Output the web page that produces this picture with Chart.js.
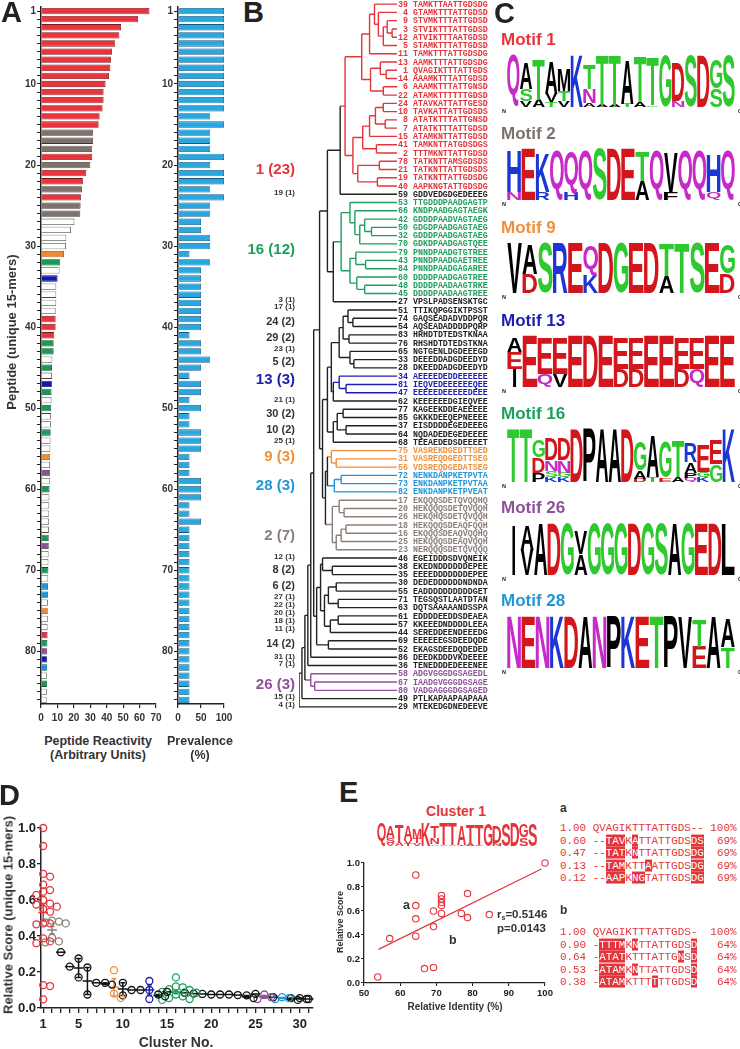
<!DOCTYPE html>
<html>
<head>
<meta charset="utf-8">
<script src="https://cdn.jsdelivr.net/npm/chart.js@4.4.1/dist/chart.umd.min.js"></script>
<style>
  body { margin: 0; background: #fff; }
  #page { position: relative; width: 740px; height: 1049px; overflow: hidden; font-family: 'Liberation Sans', Arial, sans-serif; color: #222; }
  .t { position: absolute; white-space: nowrap; line-height: 1; font-weight: bold; }
  .mono { font-family: 'Liberation Mono', 'Courier New', monospace; font-weight: normal; white-space: pre; }
  .hl { background: #e3353b; color: #fff; }
</style>
</head>
<body>
<div id="page"></div>
<script>
// ---------- data ----------
const reactivity = [66, 59, 48.7, 47.7, 45.2, 43.2, 42.6, 42.2, 41.4, 39.3,
  38.1, 38.1, 37.5, 35.7, 35.1, 31.6, 31.6, 31.2, 31.2, 30.0,
  27.5, 25.5, 24.9, 24.3, 24.1, 23.9, 20.3, 18.2, 15.4, 15.2,
  14.0, 11.7, 11.3, 10.1, 9.3, 9.3, 9.3, 8.9, 8.9, 8.9,
  8.1, 7.7, 7.7, 6.9, 6.7, 6.7, 6.6, 6.4, 6.4, 6.2,
  6.1, 6.0, 5.9, 5.8, 5.7, 5.6, 5.5, 5.4, 5.3, 5.2,
  5.1, 5.0, 5.0, 4.9, 4.8, 4.7, 4.7, 4.6, 4.5, 4.5,
  4.4, 4.3, 4.3, 4.2, 4.1, 4.1, 4.0, 4.0, 3.9, 3.8,
  3.8, 3.7, 3.7, 3.6, 3.5, 3.4];
const prevalence = [100, 100, 100, 100, 100, 100, 100, 100, 100, 100,
  100, 100, 100, 70, 100, 70, 70, 70, 100, 70,
  100, 100, 70, 100, 70, 70, 50, 50, 70, 70,
  25, 70, 50, 50, 50, 50, 50, 50, 50, 50,
  25, 50, 50, 70, 50, 25, 50, 50, 25, 50,
  25, 25, 50, 50, 50, 25, 25, 25, 50, 50,
  50, 25, 25, 50, 25, 25, 25, 25, 25, 25,
  25, 25, 25, 25, 25, 25, 25, 25, 25, 25,
  25, 25, 25, 25, 25, 25];

const cl1Red = [39, 4, 9, 3, 12, 5, 11, 13, 1, 14, 6, 22, 24, 10, 8, 7, 15, 41, 2, 78, 21, 19, 40];
const cl16Green = [53, 66, 42, 50, 32, 70, 79, 43, 84, 60, 48, 45];
const cl2Gray = [17, 20, 26, 18, 16, 25, 23];
const cl9Orange = [75, 31, 56];
const cl28LightBlue = [72, 73, 82];
const cl13DarkBlue = [34, 81, 47];
const cl26Purple = [58, 67, 80];

const leafIds = [39, 4, 9, 3, 12, 5, 11, 13, 1, 14, 6, 22, 24, 10, 8, 7, 15, 41, 2, 78, 21, 19, 40,
  59, 53, 66, 42, 50, 32, 70, 79, 43, 84, 60, 48, 45, 27, 51, 74, 54, 83, 76, 65, 33, 28,
  34, 81, 47, 62, 77, 85, 37, 64, 68, 75, 31, 56, 72, 73, 82, 17, 20, 26, 18, 16, 25, 23,
  46, 38, 35, 30, 55, 71, 63, 61, 57, 44, 69, 52, 86, 36, 58, 67, 80, 49, 29];
const leafSeqs = ['TAMKTTAATTGDSDG', 'GTAMKTTTATTGDSD', 'STVMKTTTATTGDSD', 'STVIKTTTATTGDSD', 'ATVIKTTTAATGDSD',
  'STAMKTTTATTGDSD', 'TAMKTTTATTGDSDG', 'AAMKTTTATTGDSDG', 'QVAGIKTTTATTGDS', 'AAAMKTTTATTGDSD',
  'AAAMKTTTATTGNSD', 'ATAMKTTTTTTGDSD', 'ATAVKATTATTGESD', 'TAVKATTATTGDSDS', 'ATATKTTTATTGNSD',
  'ATATKTTTATTGDSD', 'ATAMKNTTATTGDSD', 'TAMKNTTATGDSDGS', 'TTTMKNTTATTGDSD', 'TATKNTTAMSGDSDS',
  'TATKNTTATTGDSDS', 'TATKNTTATTGDSDG', 'AAPKNGTATTGDSDG', 'GDDVEDGDGEDEEEG', 'TTGDDDPAADGAGTP',
  'KNDPAADGAGTAEGK', 'GDDDPAADVAGTAEG', 'GDGDPAADGAGTAEG', 'GDDDPAADGAGTAEG', 'GDKDPAADGAGTQEE',
  'PNNDPAADGTGTREE', 'PNNDPAADGAETREE', 'PNNDPAADGAGAREE', 'DDDDPAADGAGTREE', 'DDDDPAADAAGTRKE',
  'DDDDPAADAAGTREE', 'VPSLPADSENSKTGC', 'TTIKQPGGIKTPSST', 'GAQSEADADVDDPQR', 'AQSEADADDDDPQRP',
  'HRHDTDTEDSTKNAA', 'RHSHDTDTEDSTKNA', 'NGTGENLDGDEEEGD', 'DEEEDDADGDEEDYD', 'DKEEDDADGDEEDYD',
  'AEEEEDEDDEEEEEE', 'IEQVEDEEEEEEQEE', 'EEEEEDEEEEEDEEE', 'KEEEEEEDGIEQVEE', 'KAGEEKDDEAEEEEE',
  'GKKKDEEQEPNEEEE', 'EISDDDDEGEDEEEG', 'NQDADEDEGEDEEEE', 'TEEAEDEDSDEEEET', 'VASREKDGEDTTSED',
  'VASREQDGEDTTSEG', 'VDSREQDGEDATSEG', 'NENKDANPKETPVTA', 'ENKDANPKETPVTAA', 'ENKDANPKETPVEAT',
  'EKQQQSDETQVQQHQ', 'HEKQQQSDETQVQQH', 'HEKQHQSDETQVQQH', 'HEKQQQSDEAQFQQH', 'EKQQQSDEAQVQQHQ',
  'HEKQQQSDEAQVQQH', 'NERQQQSDETQVQQQ', 'EGEIDDDSDVQNEIK', 'EKEDNDDDDDDEPEE', 'EEEEDDDDDDDEPEE',
  'DEDEDDDDDDNDNDA', 'EADDDDDDDDDDGET', 'TEGSQSTLAATDTAN', 'DQTSAAAAANDSSPA', 'EDDDDEEDDSDEAEA',
  'KKEEEDNDDDDLEEA', 'SEREDDEENDEEEDG', 'EEEEEEGSDEEDQDE', 'EKAGSDEEDQDEDED', 'DEEDKDDDVKDEEEE',
  'TENEDDDEDEEENEE', 'ADGVGGGDGSAGEDL', 'IAADGVGGGDGSAGE', 'VADGAGGGDGSAGED', 'PTLKAPAAPAAPAAA',
  'MTEKEDGDNEDEEVE'];

// nested [height, child, child...]; leaves are peptide numbers (height 100)
const dendroTree =
[0,
 [3,
  [6,
   [9,
    [12,
     [15,
      [21,
       [29,
        [42,
         [47,
          [64,
           [72, [77, 39, [81, 4, [86, [90, 9, [95, 3, 12]], 5]]], 11],
           [73, [83, 13, [89, 1, 14]], [86, 6, 22]]],
          [55,
           [65, [72, [78, [86, 24, 10], [88, 8, 7]], 15], [79, 41, 2]],
           [60, [82, 78, 21], [80, 19, 40]]]],
         59],
        [35,
         [43,
          [52, 53, [57, 66, [62, [67, 42, [74, 50, 32]], 70]]],
          [52, [58, 79, [68, 43, 84]], [59, 60, [67, 48, 45]]]],
         27]],
       [24,
        [29,
         [33,
          [41, [45, [50, 51, [55, 74, 54]], [51, 83, 76]], [52, 65, [56, 33, 28]]],
          [35, [41, 34, [48, 81, 47]], 62]],
         [35, [39, [45, 77, 85], [48, 37, 64]], 68]],
        [27,
         [29, [33, 75, [38, 31, 56]], [36, [43, 72, 73], 82]],
         [34, [41, 17, [46, 20, 26]], [38, [43, [48, 18, 16], 25], 23]]]]],
      [18,
       [22, [24, 46, [34, 38, 35]], [26, [30, [38, 30, 55], [40, 71, 63]], [32, [40, 61, 57], 44]]],
       [30, 69, 52]]],
     86],
    36],
   [12, 58, [16, 67, 80]]],
  49],
 29];

const clusterTags = ['1 (23)', '19 (1)', '16 (12)', '3 (1)', '17 (1)', '24 (2)', '29 (2)', '23 (1)', '5 (2)', '13 (3)',
  '21 (1)', '30 (2)', '10 (2)', '25 (1)', '9 (3)', '28 (3)', '2 (7)', '12 (1)', '8 (2)', '6 (2)',
  '27 (1)', '22 (1)', '20 (1)', '18 (1)', '11 (1)', '14 (2)', '31 (1)', '7 (1)', '26 (3)', '15 (1)', '4 (1)'];

// sequence logo columns, letters listed top to bottom with height in bits
const motif1 = [
  [['Q', 4.0]], [['A', 2.0], ['S', 0.9], ['V', 0.45]], [['T', 3.1], ['A', 0.55]],
  [['A', 2.5], ['V', 0.65], ['T', 0.35]], [['M', 1.7], ['T', 0.8], ['V', 0.45]], [['K', 4.0]],
  [['T', 1.9], ['N', 1.1], ['A', 0.3]], [['T', 3.75], ['A', 0.15]], [['T', 3.75], ['A', 0.15]],
  [['A', 3.4], ['T', 0.25]], [['T', 3.45], ['A', 0.35]], [['T', 3.7], ['G', 0.12]],
  [['G', 3.9]], [['D', 2.9], ['N', 0.5]], [['S', 3.9]], [['D', 3.9]], [['G', 2.2], ['S', 1.45]], [['S', 3.9]]];
const motif2 = [
  [['H', 3.2], ['N', 0.6]], [['E', 3.9]], [['K', 3.0], ['R', 0.6]], [['Q', 3.9]], [['Q', 3.2], ['H', 0.55]],
  [['Q', 3.9]], [['S', 3.9]], [['D', 3.9]], [['E', 3.9]], [['T', 2.3], ['A', 1.5]], [['Q', 3.9]],
  [['V', 3.0], ['F', 0.55]], [['Q', 3.9]], [['Q', 3.9]], [['H', 2.9], ['Q', 0.6]], [['Q', 3.9]]];
const motif9 = [
  [['V', 3.9]], [['A', 2.3], ['D', 1.5]], [['S', 3.9]], [['R', 3.9]], [['E', 3.9]], [['Q', 2.3], ['K', 1.4]],
  [['D', 3.9]], [['G', 3.9]], [['E', 3.9]], [['D', 3.9]], [['T', 2.5], ['A', 1.3]], [['T', 3.9]],
  [['S', 3.9]], [['E', 3.9]], [['G', 2.3], ['D', 1.5]]];
const motif13 = [
  [['A', 1.1], ['E', 1.3], ['I', 1.4]], [['E', 3.9]], [['E', 2.7], ['Q', 1.0]], [['E', 2.7], ['V', 1.0]],
  [['E', 3.9]], [['D', 3.9]], [['E', 3.9]], [['E', 2.4], ['D', 1.4]], [['E', 2.4], ['D', 1.4]],
  [['E', 3.9]], [['E', 3.9]], [['E', 2.4], ['D', 1.4]], [['E', 2.4], ['Q', 1.4]], [['E', 3.9]], [['E', 3.9]]];
const motif16 = [
  [['T', 3.9]], [['T', 3.9]], [['G', 1.3], ['D', 1.1], ['P', 0.7]],
  [['D', 1.6], ['N', 0.8], ['S', 0.45], ['K', 0.35]], [['D', 1.6], ['N', 0.9], ['G', 0.35], ['K', 0.35]],
  [['D', 3.9]], [['P', 3.9]], [['A', 3.9]], [['A', 3.9]], [['D', 3.9]],
  [['G', 2.1], ['A', 0.6], ['D', 0.25]], [['A', 3.1], ['T', 0.35]], [['G', 2.6], ['E', 0.3]],
  [['T', 2.7], ['A', 0.35]], [['R', 1.4], ['A', 0.8], ['P', 0.35], ['Q', 0.3]],
  [['E', 2.0], ['G', 0.4], ['K', 0.35]], [['E', 1.8], ['G', 1.3]], [['K', 3.9]]];
const motif26 = [
  [['I', 3.7]], [['A', 1.9], ['V', 1.9]], [['A', 3.9]], [['D', 3.9]], [['G', 3.9]], [['V', 1.7], ['A', 1.6]],
  [['G', 3.9]], [['G', 3.9]], [['G', 3.9]], [['D', 3.9]], [['G', 3.9]], [['S', 3.9]], [['A', 3.9]],
  [['G', 3.9]], [['E', 3.9]], [['D', 3.9]], [['L', 3.9]]];
const motif28 = [
  [['N', 3.9]], [['E', 3.9]], [['N', 3.9]], [['K', 3.9]], [['D', 3.9]], [['A', 3.9]], [['N', 3.9]],
  [['P', 3.9]], [['K', 3.9]], [['E', 3.9]], [['T', 3.9]], [['P', 3.9]], [['V', 3.9]],
  [['T', 2.0], ['E', 1.6]], [['A', 3.9]], [['A', 2.1], ['T', 1.6]]];

// panel D: relative score per cluster (cluster 1..31)
const clusterNos = [1, 2, 3, 4, 5, 6, 7, 8, 9, 10, 11, 12, 13, 14, 15, 16, 17, 18, 19, 20, 21, 22, 23, 24, 25, 26, 27, 28, 29, 30, 31];
const clusterScores = [
  [1.0, 0.9, 0.745, 0.73, 0.685, 0.655, 0.646, 0.628, 0.60, 0.58, 0.575, 0.563, 0.55, 0.535, 0.47, 0.465, 0.47, 0.387, 0.37, 0.36, 0.127, 0.122, 0.048],
  [0.485, 0.48, 0.475, 0.47, 0.39, 0.37, 0.365],
  [0.31], [0.23], [0.275, 0.17], [0.225, 0.075], [0.14], [0.14, 0.13],
  [0.21, 0.08, 0.055], [0.14, 0.07], [0.10], [0.10], [0.15, 0.10, 0.05], [0.075, 0.065], [0.09],
  [0.17, 0.12, 0.115, 0.105, 0.10, 0.09, 0.085, 0.075, 0.065, 0.055, 0.05, 0.045],
  [0.085], [0.08], [0.078], [0.075], [0.075], [0.075], [0.072], [0.07, 0.055], [0.078],
  [0.075, 0.06, 0.05], [0.06], [0.06, 0.055, 0.05], [0.055, 0.045], [0.055, 0.05], [0.05]];

// panel E
const eIdentity = [100, 64.3, 78.6, 71.4, 71.4, 71.4, 71.4, 64.3, 69.2, 71.4, 76.9, 84.6, 78.6, 64.3, 69.2, 57.1, 64.3, 66.7, 69.2, 53.8];
const eScore = [1.0, 0.90, 0.745, 0.73, 0.70, 0.67, 0.645, 0.645, 0.60, 0.58, 0.58, 0.57, 0.545, 0.535, 0.47, 0.37, 0.39, 0.12, 0.13, 0.05];
const eFitIdentity = [54, 99];
const eFitScore = [0.28, 0.95];
const alignA = ['1.00 QVAGIKTTTATTGDS-- 100%', '0.60 --[TAV]K[A]TTATTGDS[DS]  69%', '0.47 --[TAT]K[N]TTATTGDS[DG]  69%',
  '0.13 --[TAM]KTT[A]ATTGDS[DG]  69%', '0.12 --[AAP]K[NG]TATTGDS[DG]  69%'];
const alignB = ['1.00 QVAGIKTTTATTGDS-  100%', '0.90 -[TTTM]K[N]TTATTGDS[D]   64%', '0.64 -[ATAT]KTTTATTG[N]S[D]   64%',
  '0.53 -[ATAM]K[N]TTATTGDS[D]   64%', '0.38 -[ATAM]KTTT[T]TTGDS[D]   64%'];

// ---------- styles ----------
const RED = '#e3353b', GRAY = '#8c7f7a', GREEN = '#1e9f5b', ORANGE = '#f0903d',
      DBLUE = '#1c1cb0', LBLUE = '#1f97d6', PURPLE = '#8e5199', INK = '#222';
const clusterSets = [[cl1Red, RED], [cl16Green, GREEN], [cl2Gray, GRAY], [cl9Orange, ORANGE],
  [cl28LightBlue, LBLUE], [cl13DarkBlue, DBLUE], [cl26Purple, PURPLE]];
function peptideColor(id) {
  for (const [set, col] of clusterSets) if (set.includes(id)) return col;
  return null;
}
const barFill = { [RED]: '#e8343a', [GRAY]: '#7f726d', [GREEN]: '#1a9a58', [ORANGE]: '#f08b35',
  [LBLUE]: '#1d94d6', [DBLUE]: '#1616b0', [PURPLE]: '#8e5199' };
const barEdge = { [RED]: '#7a1518', [GRAY]: '#3a302c', [GREEN]: '#0b4a28', [ORANGE]: '#8a4a10',
  [LBLUE]: '#0c4a70', [DBLUE]: '#080850', [PURPLE]: '#45224a' };
const dClusterColor = { 1: RED, 2: GRAY, 9: ORANGE, 13: DBLUE, 16: GREEN, 26: PURPLE, 28: LBLUE };

Chart.defaults.font.family = "'Liberation Sans', Arial, sans-serif";
Chart.defaults.color = INK;

const page = document.getElementById('page');
function addCanvas(left, top, w, h) {
  const c = document.createElement('canvas');
  c.width = w; c.height = h;
  c.style.cssText = `position:absolute;left:${left}px;top:${top}px;width:${w}px;height:${h}px`;
  page.appendChild(c);
  return c;
}
function text(html, x, cy, size, color, align, extra) {
  const d = document.createElement('div');
  d.className = 't';
  d.innerHTML = html;
  const tx = align === 'center' ? '-50%' : align === 'right' ? '-100%' : '0';
  d.style.cssText = `left:${x}px;top:${cy}px;font-size:${size}px;color:${color || INK};transform:translate(${tx},-50%);${extra || ''}`;
  page.appendChild(d);
  return d;
}
function vtext(html, cx, cy, size) {
  return text(html, cx, cy, size, '#333', 'center', 'transform:translate(-50%,-50%) rotate(-90deg);');
}
const noPlug = { legend: { display: false }, tooltip: { enabled: false } };
const gap = () => ({ x: null, y: null });

// ---------- panel A ----------
const peptideLabels = reactivity.map((v, i) => String(i + 1));
const pepCols = peptideLabels.map(l => peptideColor(+l));

function peptideAxis(width) {
  return {
    ticks: { autoSkip: false, font: { size: 10, weight: 'bold' }, color: '#333', padding: 1,
      callback: (v, i) => (i === 0 || (i + 1) % 10 === 0) ? String(i + 1) : '' },
    grid: { drawOnChartArea: false, offset: false, tickLength: 4, color: INK, lineWidth: 1 },
    border: { color: INK, width: 1.5 },
    afterFit: s => { s.width = width; }
  };
}

new Chart(addCanvas(0, 0, 168, 725), {
  type: 'bar',
  data: { labels: peptideLabels, datasets: [{
    data: reactivity,
    backgroundColor: pepCols.map(c => c ? barFill[c] : '#ffffff'),
    borderColor: pepCols.map(c => c ? barEdge[c] : '#444'),
    borderWidth: 0.8, barPercentage: 0.78, categoryPercentage: 1 }] },
  options: {
    indexAxis: 'y', responsive: false, animation: false,
    layout: { padding: { top: 5, right: 12 } },
    plugins: noPlug,
    scales: {
      x: { min: 0, max: 70,
        ticks: { stepSize: 10, font: { size: 10, weight: 'bold' }, color: '#333', padding: 4, maxRotation: 0 },
        grid: { drawOnChartArea: false, tickLength: 4, color: INK, lineWidth: 1.2 },
        border: { color: INK, width: 1.5 },
        afterFit: s => { s.height = 21; } },
      y: peptideAxis(41)
    }
  }
});

new Chart(addCanvas(130, 0, 110, 725), {
  type: 'bar',
  data: { labels: peptideLabels, datasets: [{
    data: prevalence, backgroundColor: '#2aa7df', borderColor: '#135a85',
    borderWidth: 0.8, barPercentage: 0.78, categoryPercentage: 1 }] },
  options: {
    indexAxis: 'y', responsive: false, animation: false,
    layout: { padding: { top: 5, right: 16 } },
    plugins: noPlug,
    scales: {
      x: { min: 0, max: 100,
        ticks: { stepSize: 25, font: { size: 10, weight: 'bold' }, color: '#333', padding: 4, maxRotation: 0,
          callback: v => v % 50 === 0 ? String(v) : '' },
        grid: { drawOnChartArea: false, tickLength: 4, color: INK, lineWidth: 1.2 },
        border: { color: INK, width: 1.5 },
        afterFit: s => { s.height = 21; } },
      y: peptideAxis(48)
    }
  }
});

text('A', 1, 12, 29);
vtext('Peptide (unique 15-mers)', 11, 332, 13);
text('Peptide Reactivity', 98, 741, 12.5, '#333', 'center');
text('(Arbitrary Units)', 98, 755, 12.5, '#333', 'center');
text('Prevalence', 200, 741, 12.5, '#333', 'center');
text('(%)', 200, 755, 12.5, '#333', 'center');

// ---------- panel B ----------
function layoutNode(node) {
  if (typeof node === 'number') {
    return { h: 100, y: leafIds.indexOf(node), col: peptideColor(node) || INK };
  }
  const [h, ...kids] = node;
  const ch = kids.map(layoutNode);
  const ys = ch.map(c => c.y);
  const cols = new Set(ch.map(c => c.col));
  const col = cols.size === 1 ? [...cols][0] : INK;
  return { h, y: (Math.min(...ys) + Math.max(...ys)) / 2, y0: Math.min(...ys), y1: Math.max(...ys), kids: ch, col };
}
const segsByColor = {};
function collect(n) {
  if (!n.kids) return;
  const push = (col, pts) => { (segsByColor[col] = segsByColor[col] || []).push(...pts, gap()); };
  push(n.col, [{ x: n.h, y: n.y0 }, { x: n.h, y: n.y1 }]);
  n.kids.forEach(k => { push(k.col, [{ x: n.h, y: k.y }, { x: k.h, y: k.y }]); collect(k); });
}
collect(layoutNode(dendroTree));

const leafLabelPlugin = {
  id: 'leafLabels',
  afterDraw(chart) {
    const ctx = chart.ctx, ys = chart.scales.y, r = chart.chartArea.right;
    ctx.save();
    ctx.font = "bold 8.3px 'Liberation Mono', 'Courier New', monospace";
    ctx.textBaseline = 'middle';
    leafIds.forEach((id, i) => {
      const y = ys.getPixelForValue(i);
      ctx.fillStyle = peptideColor(id) || INK;
      ctx.textAlign = 'right';
      ctx.fillText(String(id), r + 11, y + 0.5);
      ctx.textAlign = 'left';
      ctx.fillText(leafSeqs[i], r + 16, y + 0.5);
    });
    ctx.restore();
  }
};

new Chart(addCanvas(290, 0, 205, 711), {
  type: 'scatter',
  data: { datasets: Object.entries(segsByColor).map(([col, pts]) => ({
    data: pts, showLine: true, spanGaps: false, pointRadius: 0, borderColor: col, borderWidth: 1.4 })) },
  options: {
    responsive: false, animation: false,
    layout: { padding: { left: 9, right: 98, top: 0, bottom: 0 } },
    plugins: noPlug,
    scales: {
      x: { display: false, min: 0, max: 100 },
      y: { display: false, min: -0.5, max: 85.5, reverse: true }
    }
  },
  plugins: [leafLabelPlugin]
});

text('B', 243, 12, 29);
const tagY = [168, 193, 248, 300, 307, 321, 337, 349, 361, 378, 400, 413, 429, 441, 455, 484, 534, 557, 569, 585,
  597, 605, 613, 621, 629, 643, 657, 664, 683, 697, 705];
const tagColor = { '1 (23)': RED, '16 (12)': GREEN, '13 (3)': DBLUE, '9 (3)': ORANGE, '28 (3)': LBLUE, '2 (7)': GRAY, '26 (3)': PURPLE };
clusterTags.forEach((t, i) => {
  const big = tagColor[t];
  const single = t.endsWith('(1)');
  text(t, 295, tagY[i], big ? 15 : single ? 8 : 11, big || '#333', 'right');
});

// ---------- panel C (logos) ----------
function aaColor(L) {
  if ('GSTYC'.includes(L)) return '#2ec92e';
  if ('KRH'.includes(L)) return '#1b35d6';
  if ('DE'.includes(L)) return '#d2161b';
  if ('NQ'.includes(L)) return '#c72bc7';
  return '#000';
}
function drawGlyph(ctx, L, left, top, w, h, color) {
  ctx.save();
  ctx.font = "bold 100px 'Liberation Sans', Arial, sans-serif";
  const m = ctx.measureText(L);
  const gl = m.actualBoundingBoxLeft, ga = m.actualBoundingBoxAscent;
  const gw = gl + m.actualBoundingBoxRight, gh = ga + m.actualBoundingBoxDescent;
  let ww = w;
  if (L === 'I') { ww = w * 0.22; left += (w - ww) / 2; }
  ctx.translate(left, top);
  ctx.scale(ww / gw, h / gh);
  ctx.fillStyle = color;
  ctx.textAlign = 'left';
  ctx.textBaseline = 'alphabetic';
  ctx.fillText(L, gl, ga);
  ctx.restore();
}
const logoPlugin = {
  id: 'logoLetters',
  afterDatasetsDraw(chart, args, opts) {
    const ctx = chart.ctx;
    chart.data.datasets.forEach((ds, di) => {
      chart.getDatasetMeta(di).data.forEach((bar, i) => {
        const L = ds.letters[i];
        if (!L) return;
        const p = bar.getProps(['x', 'y', 'base', 'width'], true);
        const h = p.base - p.y;
        if (h < 0.3) return;
        drawGlyph(ctx, L, p.x - p.width / 2, p.y, p.width, h, opts.mono || aaColor(L));
      });
    });
  }
};
function makeLogo(left, top, width, height, cols, mono, showNums) {
  const depth = Math.max(...cols.map(c => c.length));
  const datasets = [];
  for (let k = 0; k < depth; k++) {
    datasets.push({
      data: cols.map(c => c.length > k ? c[c.length - 1 - k][1] : 0),
      letters: cols.map(c => c.length > k ? c[c.length - 1 - k][0] : ''),
      backgroundColor: 'rgba(0,0,0,0)', borderWidth: 0, barPercentage: 0.97, categoryPercentage: 1
    });
  }
  new Chart(addCanvas(left, top, width, height), {
    type: 'bar',
    data: { labels: cols.map((c, i) => String(i + 1)), datasets },
    options: {
      responsive: false, animation: false,
      layout: { padding: { left: 2, right: 4, top: 2, bottom: showNums ? 0 : 1 } },
      plugins: { ...noPlug, logoLetters: { mono } },
      scales: {
        x: { stacked: true, display: showNums, grid: { display: false }, border: { display: false },
          ticks: { font: { size: 5.5, weight: 'bold' }, color: INK, padding: 1, maxRotation: 0, autoSkip: false },
          afterFit: s => { s.height = 8; } },
        y: { stacked: true, display: false, min: 0, max: 4 }
      }
    },
    plugins: [logoPlugin]
  });
}
text('C', 494, 13, 29);
const motifs = [['Motif 1', RED, motif1, 39, 55, 107], ['Motif 2', '#7d716c', motif2, 133, 148, 200],
  ['Motif 9', ORANGE, motif9, 227, 242, 293], ['Motif 13', DBLUE, motif13, 320, 335, 387],
  ['Motif 16', GREEN, motif16, 413, 428, 482], ['Motif 26', PURPLE, motif26, 507, 522, 575],
  ['Motif 28', LBLUE, motif28, 600, 615, 668]];
motifs.forEach(([name, col, cols, ty, lt, lb]) => {
  text(name, 501, ty, 17, col);
  makeLogo(505, lt - 2, 234, lb - lt + 10, cols, null, true);
  text('N', 502, lb + 5, 5.5);
  text('C', 738, lb + 5, 5.5);
});

// ---------- panel D ----------
function swarmOffsets(vals, pxX, pxY, minDist) {
  const order = vals.map((v, i) => i).sort((a, b) => vals[b] - vals[a]);
  const placed = [], off = vals.map(() => 0);
  const cands = [0];
  for (let k = 1; k < 14; k++) cands.push(k * 3.4, -k * 3.4);
  order.forEach(i => {
    for (const c of cands) {
      if (placed.every(p => Math.hypot(p.x - c, (p.y - vals[i]) * pxY) >= minDist)) {
        off[i] = c / pxX; placed.push({ x: c, y: vals[i] }); break;
      }
    }
  });
  return off;
}
const dPoints = [], dBars = [];
clusterScores.forEach((vals, ci) => {
  const c = clusterNos[ci];
  const col = dClusterColor[c] || '#111';
  const off = swarmOffsets(vals, 8.8, 180, 6.8);
  dPoints.push({ data: vals.map((v, k) => ({ x: c + off[k], y: v })), showLine: false, clip: false,
    pointRadius: 3.5, pointBorderWidth: 1.3, pointBorderColor: col, pointBackgroundColor: 'rgba(0,0,0,0)' });
  const n = vals.length;
  const m = vals.reduce((a, b) => a + b, 0) / n;
  const se = n > 1 ? Math.sqrt(vals.reduce((a, b) => a + (b - m) ** 2, 0) / (n - 1)) / Math.sqrt(n) : 0;
  const pts = [{ x: c - 0.55, y: m }, { x: c + 0.55, y: m }];
  if (n > 1) pts.push(gap(), { x: c, y: m - se }, { x: c, y: m + se }, gap(),
    { x: c - 0.28, y: m + se }, { x: c + 0.28, y: m + se }, gap(), { x: c - 0.28, y: m - se }, { x: c + 0.28, y: m - se });
  dBars.push({ data: pts, showLine: true, spanGaps: false, clip: false, pointRadius: 0, borderColor: col, borderWidth: 1.5 });
});
new Chart(addCanvas(0, 815, 320, 234), {
  type: 'scatter',
  data: { datasets: [...dPoints, ...dBars] },
  options: {
    responsive: false, animation: false,
    layout: { padding: { top: 13, right: 7 } },
    plugins: noPlug,
    scales: {
      x: { min: 0.75, max: 31.5,
        afterBuildTicks: s => { s.ticks = clusterNos.map(v => ({ value: v })); },
        ticks: { autoSkip: false, maxRotation: 0, padding: 4, font: { size: 13, weight: 'bold' }, color: INK,
          callback: v => (v === 1 || v % 5 === 0) ? String(v) : '' },
        grid: { drawOnChartArea: false, tickLength: 5, color: INK, lineWidth: 1.3 },
        border: { color: INK, width: 1.5 },
        afterFit: s => { s.height = 41; } },
      y: { min: 0, max: 1,
        ticks: { stepSize: 0.2, padding: 1, font: { size: 13, weight: 'bold' }, color: INK, callback: v => v.toFixed(1) },
        grid: { drawOnChartArea: false, tickLength: 4, color: INK, lineWidth: 1.3 },
        border: { color: INK, width: 1.5 },
        afterFit: s => { s.width = 41; } }
    }
  }
});
text('D', -1, 795, 29);
vtext('Relative Score (unique 15-mers)', 8, 915, 13);
text('Cluster No.', 176, 1042, 14, '#333', 'center');

// ---------- panel E ----------
text('E', 339, 792, 29);
text('Cluster 1', 456, 811, 14, RED, 'center');
makeLogo(375, 821, 166, 34, motif1, RED, false);
new Chart(addCanvas(340, 855, 220, 150), {
  type: 'scatter',
  data: { datasets: [
    { data: eIdentity.map((v, i) => ({ x: v, y: eScore[i] })), showLine: false, clip: false,
      pointRadius: 3.2, pointBorderWidth: 1.1, pointBorderColor: RED, pointBackgroundColor: 'rgba(0,0,0,0)' },
    { data: eFitIdentity.map((v, i) => ({ x: v, y: eFitScore[i] })), showLine: true, pointRadius: 0,
      borderColor: RED, borderWidth: 1.2 }
  ] },
  options: {
    responsive: false, animation: false,
    layout: { padding: { top: 8, right: 15 } },
    plugins: noPlug,
    scales: {
      x: { min: 50, max: 100,
        ticks: { stepSize: 10, padding: 2, maxRotation: 0, font: { size: 9.5, weight: 'bold' }, color: INK },
        grid: { drawOnChartArea: false, tickLength: 3, color: INK, lineWidth: 1.1 },
        border: { color: INK, width: 1.3 },
        afterFit: s => { s.height = 22; } },
      y: { min: 0, max: 1,
        ticks: { stepSize: 0.2, padding: 1, font: { size: 9.5, weight: 'bold' }, color: INK, callback: v => v.toFixed(1) },
        grid: { drawOnChartArea: false, tickLength: 3, color: INK, lineWidth: 1.1 },
        border: { color: INK, width: 1.3 },
        afterFit: s => { s.width = 24; } }
    }
  }
});
vtext('Relative Score', 340, 922, 9);
text('Relative Identity (%)', 455, 1007, 10, '#333', 'center');
text('a', 403, 905, 12.5, '#333');
text('b', 449, 940, 12.5, '#333');
text('r<sub style="font-size:7px;vertical-align:-2px">s</sub>=0.5146', 497, 915, 11.5, '#333');
text('p=0.0143', 497, 929, 11.5, '#333');

function alignRow(s) { return s.replace(/\[([^\]]+)\]/g, '<span class="hl">$1</span>'); }
text('a', 560, 808, 12, '#333');
alignA.forEach((row, i) => {
  const d = text(alignRow(row), 560, 828 + i * 12.5, 10.9, RED);
  d.classList.add('mono');
});
text('b', 560, 910, 12, '#333');
alignB.forEach((row, i) => {
  const d = text(alignRow(row), 560, 932 + i * 12.5, 10.9, RED);
  d.classList.add('mono');
});
</script>
</body>
</html>
